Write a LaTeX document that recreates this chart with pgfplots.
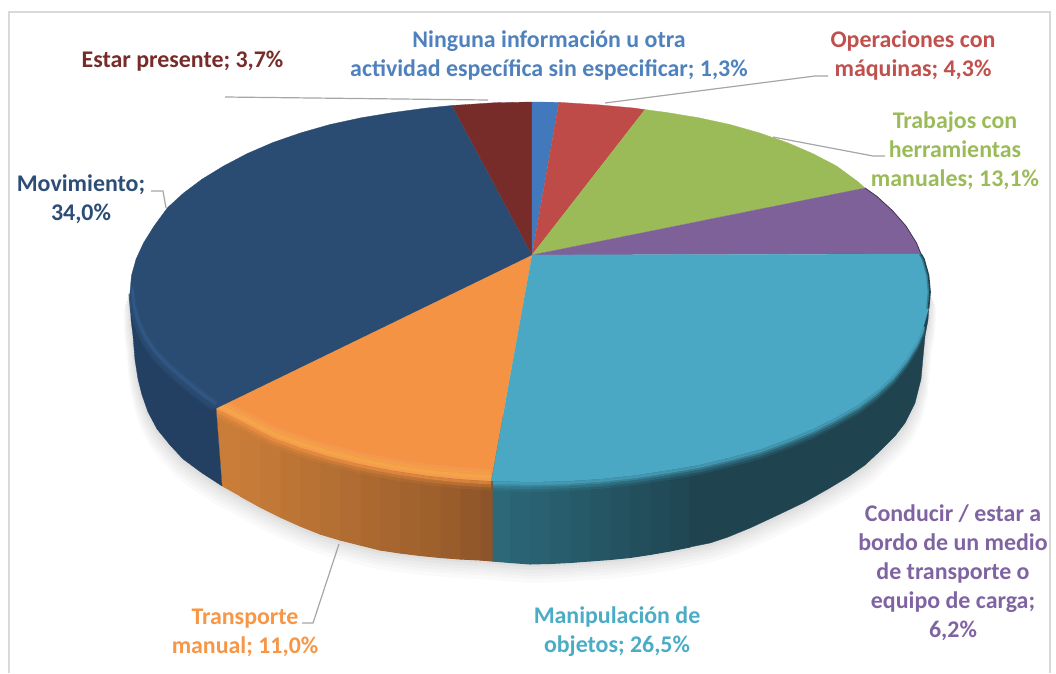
\documentclass[border=0pt]{standalone}
\usepackage{fontspec}
\setmainfont{Carlito}
\usepackage{pgfplots}
\usepackage{pgfplotstable}
\pgfplotsset{compat=1.18}
\definecolor{cNavy}{HTML}{2B4C72}
\definecolor{cMar}{HTML}{772C2A}
\definecolor{cBlue}{HTML}{4279BC}
\definecolor{cRed}{HTML}{BE4B48}
\definecolor{cGreen}{HTML}{9BBB59}
\definecolor{cPur}{HTML}{7F6199}
\definecolor{cTeal}{HTML}{4AA8C4}
\definecolor{cOr}{HTML}{F39343}
\definecolor{tBlue}{HTML}{4F81BD}
\definecolor{tRed}{HTML}{C0504D}
\definecolor{tPur}{HTML}{8064A2}
\definecolor{tTeal}{HTML}{4BACC6}
\definecolor{tOr}{HTML}{F79646}
\definecolor{tNavy}{HTML}{2C4D75}
\definecolor{wOrL}{HTML}{CB7E39}
\definecolor{wOrR}{HTML}{8C5428}
\definecolor{wTeL}{HTML}{2B6878}
\definecolor{wTeR}{HTML}{1F4450}
\definecolor{wNavy}{HTML}{233F62}
\definecolor{lead}{HTML}{A6A6A6}
\tikzset{lab/.style={font=\fontsize{23.9}{29}\selectfont\bfseries, align=center, inner sep=0pt}}
% outline of the whole pie, left to right along the bottom edge
\pgfplotstableread{
x y
530 300
130 292
131 320
133 336
135 360
138 379
142 395
148 412
157 429
170 445
183 459
202 473
222 486
240 496
260 507
280 517
300 526
320 534
340 540
360 545
380 550
400 553
420 555.5
440 557.5
460 559
480 560
492 561
510 562.5
530 564
550 563.5
570 562.5
590 561
610 559.5
630 557.5
650 554.5
670 551
690 547
710 543
728 537
750 528
780 514
805 502
828 489
848 477
865 465
880 451
895 436
905 423
915 403
921 379
925 336
928 320
930 292
}\outline
% rims for the bevel
\pgfplotstableread{
x y
130 292
131.5 308.6
136.1 325
143.6 341.2
154.1 356
167.5 370
183.6 384
202.3 399
214 407
}\rimNavy
\pgfplotstableread{
x y
216 409
223.6 412
247.2 424
272.9 437.5
300.6 447.6
330 456.5
361 464.2
393.2 470.5
426.5 475.5
460.6 479.1
491 481
}\rimOr
\pgfplotstableread{
x y
493 481
530 482
565 481.3
599.4 479.1
633.5 475.5
666.8 470.5
699 465
730 457.5
759.4 449.6
787.1 439.5
812.8 429
836.4 417
857.7 405
876.4 391
892.5 376
905.9 359
916.4 342
923.9 325
}\rimTeal
\newcommand\St[5]{\addplot[fill=#5,draw=#5,line width=1pt] coordinates {(#1,415)(#2,415)(#2,#4)(#1,#3)};}
\newcommand\Face[2]{\addplot[fill=#1,draw=#1,line width=.3pt] coordinates {#2};}
\begin{document}
\begin{tikzpicture}
\begin{axis}[
  scale only axis, width=1056pt, height=673pt,
  xmin=0, xmax=1056, ymin=0, ymax=673, y dir=reverse,
  axis lines=none, no markers, clip=true,
]
\path (axis cs:0,0) rectangle (axis cs:1056,673);
% frame
\addplot[color=black!15, line width=1.2pt] coordinates {(9,673)(9,12)(1050,12)(1050,673)};
% soft shadow
\addplot[fill=black!2,draw=none] table[x expr=530+(\thisrow{x}-530)*1.016,y expr=\thisrow{y}+19] {\outline};
\addplot[fill=black!4,draw=none] table[x expr=530+(\thisrow{x}-530)*1.014,y expr=\thisrow{y}+15] {\outline};
\addplot[fill=black!6,draw=none] table[x expr=530+(\thisrow{x}-530)*1.012,y expr=\thisrow{y}+12] {\outline};
\addplot[fill=black!8,draw=none] table[x expr=530+(\thisrow{x}-530)*1.009,y expr=\thisrow{y}+9] {\outline};
\addplot[fill=black!10,draw=none] table[x expr=530+(\thisrow{x}-530)*1.006,y expr=\thisrow{y}+6] {\outline};
\addplot[fill=black!13,draw=none] table[x expr=530+(\thisrow{x}-530)*1.003,y expr=\thisrow{y}+3] {\outline};
% teal wall
\St{492}{510}{561}{562.5}{wTeL}
\St{510}{530}{562.5}{564}{wTeL!90!wTeR}
\St{530}{550}{564}{563.5}{wTeL!80!wTeR}
\St{550}{570}{563.5}{562.5}{wTeL!70!wTeR}
\St{570}{590}{562.5}{561}{wTeL!60!wTeR}
\St{590}{610}{561}{559.5}{wTeL!50!wTeR}
\St{610}{630}{559.5}{557.5}{wTeL!40!wTeR}
\St{630}{650}{557.5}{554.5}{wTeL!30!wTeR}
\St{650}{670}{554.5}{551}{wTeL!20!wTeR}
\St{670}{690}{551}{547}{wTeL!10!wTeR}
\Face{wTeR}{(690,420)(690,547)(710,543)(728,537)(750,528)(780,514)(805,502)(828,489)(848,477)(865,465)(880,451)(895,436)(905,423)(915,403)(921,379)(925,336)(928,320)(930,292)(800,300)}
% orange wall
\St{480}{492}{560}{561}{wOrR}
\St{460}{480}{559}{560}{wOrL!10!wOrR}
\St{440}{460}{557.5}{559}{wOrL!20!wOrR}
\St{420}{440}{555.5}{557.5}{wOrL!28!wOrR}
\St{400}{420}{553}{555.5}{wOrL!36!wOrR}
\St{380}{400}{550}{553}{wOrL!43!wOrR}
\St{360}{380}{545}{550}{wOrL!50!wOrR}
\St{340}{360}{540}{545}{wOrL!57!wOrR}
\St{320}{340}{534}{540}{wOrL!64!wOrR}
\St{300}{320}{526}{534}{wOrL!71!wOrR}
\St{280}{300}{517}{526}{wOrL!78!wOrR}
\St{260}{280}{507}{517}{wOrL!85!wOrR}
\St{240}{260}{496}{507}{wOrL!92!wOrR}
\Face{wOrL!97!wOrR}{(216,408)(240,415)(240,496)(222,486)}
% orange face and bevel
\Face{cOr}{(532,255)(491,481)(460.6,479.1)(426.5,475.5)(393.2,470.5)(361,464.2)(330,456.5)(300.6,447.6)(272.9,437.5)(247.2,424)(223.6,412)(216,409)(300,360)}
\addplot[color=white,opacity=.05,line width=4pt] table[y expr=\thisrow{y}-10] {\rimOr};
\addplot[color=yellow!60!white,opacity=.10,line width=3pt] table[y expr=\thisrow{y}-7] {\rimOr};
\addplot[color=yellow!60!white,opacity=.18,line width=3pt] table[y expr=\thisrow{y}-4] {\rimOr};
\addplot[color=orange!60!white,opacity=.3,line width=3pt] table[y expr=\thisrow{y}-1] {\rimOr};
\addplot[color=cOr,opacity=.7,line width=3pt] table[y expr=\thisrow{y}+2] {\rimOr};
\addplot[color=cOr,opacity=.35,line width=3pt] table[y expr=\thisrow{y}+5] {\rimOr};
\addplot[color=cOr,opacity=.12,line width=3pt] table[y expr=\thisrow{y}+8] {\rimOr};
% navy wall and face
\Face{wNavy}{(130,292)(131,320)(133,336)(135,360)(138,379)(142,395)(148,412)(157,429)(170,445)(183,459)(202,473)(222,486)(216,408)(180,300)}
\Face{cNavy}{(532,255)(452,105.5)(426.5,108)(393.2,112.5)(361,117.8)(330,124.5)(300.6,132.9)(272.9,142.5)(247.2,153.6)(223.6,166)(202.3,179)(183.6,193)(167.5,207.7)(154.1,226)(143.6,242.8)(136.1,259)(131.5,275.4)(130,292)(131.5,308.6)(136.1,325)(143.6,341.2)(154.1,356)(167.5,370)(183.6,384)(202.3,399)(216,408.5)}
\addplot[color=cBlue,opacity=.10,line width=3pt] table[x expr=\thisrow{x}+3,y expr=\thisrow{y}-5] {\rimNavy};
\addplot[color=cBlue,opacity=.22,line width=3pt] table[x expr=\thisrow{x}+2,y expr=\thisrow{y}-3] {\rimNavy};
\addplot[color=cNavy,opacity=.8,line width=3pt] table[y expr=\thisrow{y}+1.5] {\rimNavy};
\addplot[color=cNavy,opacity=.35,line width=2.5pt] table[y expr=\thisrow{y}+4] {\rimNavy};
% other slices
\Face{cMar}{(532,255)(532,102)(495.1,102.7)(452,105.5)}
\Face{cBlue}{(532,255)(532,102)(559,102.3)}
\Face{cRed}{(532,255)(559,102.3)(565,102.7)(599.4,104.9)(633.5,108)(645,109.6)}
\Face{cGreen}{(532,255)(645,109.6)(666.8,112.5)(699,117.8)(730,124.5)(759.4,132.9)(787.1,142.5)(812.8,153.6)(836.4,165.9)(857.7,181.5)(865,188)}
\Face{cPur}{(532,255)(865,188)(876.4,196)(892.5,210.7)(905.9,226)(916.4,242.8)(921,254)}
\Face{cTeal}{(532,255)(921,254)(923.9,259)(928.5,275.4)(930,292)(928.5,308.6)(923.9,325)(916.4,342)(905.9,359)(892.5,376)(876.4,391)(857.7,405)(836.4,417)(812.8,429)(787.1,439.5)(759.4,449.6)(730,457.5)(699,465)(666.8,470.5)(633.5,475.5)(599.4,479.1)(565,481.3)(530,482)(491.3,481)}
% bevel: teal
\addplot[color=cTeal,opacity=.8,line width=2.5pt] table[y expr=\thisrow{y}+1.5] {\rimTeal};
\addplot[color=cTeal,opacity=.55,line width=2.5pt] table[y expr=\thisrow{y}+3.5] {\rimTeal};
\addplot[color=cTeal,opacity=.3,line width=2.5pt] table[y expr=\thisrow{y}+6] {\rimTeal};
\addplot[color=cTeal,opacity=.12,line width=2.5pt] table[y expr=\thisrow{y}+8.5] {\rimTeal};
% dark edge, upper right
\addplot[color=wTeR,line width=1.6pt] coordinates {(921,254)(923.9,259)(928.5,275.4)(930,292)(928.5,308.6)};
\addplot[color=wTeR,opacity=.4,line width=1.6pt] coordinates {(919.5,254)(922.4,259)(927,275.4)(928.5,292)(927,308.6)};
\addplot[color=black!45!cPur,line width=.8pt] coordinates {(865,188)(876.4,196)(892.5,210.7)(905.9,226)(916.4,242.8)(921,254)};
% leader lines
\addplot[color=lead,line width=1.2pt] coordinates {(225,97)(488,100)};
\addplot[color=lead,line width=1.2pt] coordinates {(605,103)(815,76)(828,76)};
\addplot[color=lead,line width=1.2pt] coordinates {(773,137)(873,156)(885,156)};
\addplot[color=lead,line width=1.2pt] coordinates {(151,191)(163,191)(166,208)};
\addplot[color=lead,line width=1.2pt] coordinates {(339,544)(313,623)(302,623)};
% labels
\node[lab,text=tBlue] at (axis cs:549,55.5) {Ninguna información u otra\\actividad específica sin especificar; 1,3\%};
\node[lab,text=cMar] at (axis cs:182.5,61) {Estar presente; 3,7\%};
\node[lab,text=tRed] at (axis cs:913,55.5) {Operaciones con\\máquinas; 4,3\%};
\node[lab,text=cGreen] at (axis cs:955,151) {Trabajos con\\herramientas\\manuales; 13,1\%};
\node[lab,text=tNavy] at (axis cs:81,199) {Movimiento;\\34,0\%};
\node[lab,text=tOr] at (axis cs:245,632.5) {Transporte\\manual; 11,0\%};
\node[lab,text=tTeal] at (axis cs:617,631.5) {Manipulación de\\objetos; 26,5\%};
\node[lab,text=tPur] at (axis cs:953,572.5) {Conducir / estar a\\bordo de un medio\\de transporte o\\equipo de carga;\\6,2\%};
\end{axis}
\end{tikzpicture}
\end{document}
